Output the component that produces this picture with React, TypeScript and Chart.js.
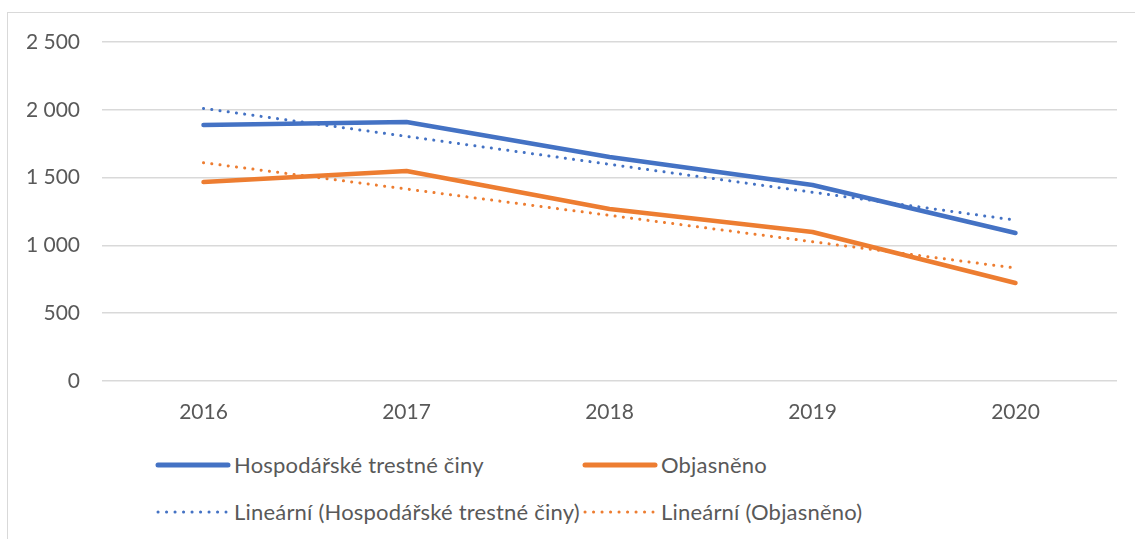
import React, { useEffect, useRef } from "react";
import { Chart, registerables } from "chart.js";

Chart.register(...registerables);

const years = ["2016", "2017", "2018", "2019", "2020"];
const crimes = [1888, 1910, 1652, 1445, 1091];
const solved = [1467, 1549, 1268, 1099, 723];
const trendCrimes = [2010, null, null, null, 1186];
const trendSolved = [1610, null, null, null, 833];
const yTicks = [0, 500, 1000, 1500, 2000, 2500];

const labelCrimes = "Hospodářské trestné činy";
const labelSolved = "Objasněno";
const labelTrendCrimes = "Lineární (Hospodářské trestné činy)";
const labelTrendSolved = "Lineární (Objasněno)";

const BLUE = "#4472C4";
const ORANGE = "#ED7D31";
const TEXT = "#595959";
const GRID = "#D9D9D9";
const FONT = "Lato, 'Open Sans', sans-serif";
const FS = 21;

function fmt(v: number) {
  return String(v).replace(/\B(?=(\d{3})+(?!\d))/g, " ");
}

function Sample({ color, dotted }: { color: string; dotted: boolean }) {
  return (
    <svg width={79} height={10} style={{ display: "block" }}>
      {dotted ? (
        <line x1={3} y1={5} x2={71} y2={5} stroke={color} strokeWidth={3} strokeLinecap="round" strokeDasharray="0.1 8.4" />
      ) : (
        <line x1={3} y1={5} x2={73} y2={5} stroke={color} strokeWidth={5} strokeLinecap="round" />
      )}
    </svg>
  );
}

export default function App() {
  const ref = useRef<HTMLCanvasElement>(null);
  useEffect(() => {
    const chart = new Chart(ref.current!, {
      type: "line",
      data: {
        labels: years,
        datasets: [
          { label: labelCrimes, data: crimes, borderColor: BLUE, backgroundColor: BLUE, borderWidth: 4.5, borderCapStyle: "round", borderJoinStyle: "round", pointRadius: 0, tension: 0, order: 2 },
          { label: labelSolved, data: solved, borderColor: ORANGE, backgroundColor: ORANGE, borderWidth: 4.5, borderCapStyle: "round", borderJoinStyle: "round", pointRadius: 0, tension: 0, order: 2 },
          { label: labelTrendCrimes, data: trendCrimes, borderColor: BLUE, borderWidth: 3, borderDash: [0.1, 8.2], borderCapStyle: "round", pointRadius: 0, spanGaps: true, order: 1 },
          { label: labelTrendSolved, data: trendSolved, borderColor: ORANGE, borderWidth: 3, borderDash: [0.1, 8.2], borderCapStyle: "round", pointRadius: 0, spanGaps: true, order: 1 },
        ],
      },
      options: {
        animation: false,
        responsive: false,
        maintainAspectRatio: false,
        layout: { padding: { left: 0, right: 18, top: 42, bottom: 0 } },
        plugins: { legend: { display: false }, tooltip: { enabled: false } },
        scales: {
          x: {
            offset: true,
            grid: { display: false, drawTicks: false, offset: true },
            border: { display: false },
            ticks: { color: TEXT, font: { family: FONT, size: FS }, padding: 19 },
            afterFit: (s: any) => { s.height = 59; },
          },
          y: {
            min: 0,
            max: 2500,
            afterBuildTicks: (s: any) => { s.ticks = yTicks.map((v) => ({ value: v })); },
            grid: { color: GRID, lineWidth: 1.5, drawTicks: false },
            border: { display: false },
            ticks: { color: TEXT, font: { family: FONT, size: FS }, padding: 22, callback: (v: any) => fmt(Number(v)) },
            afterFit: (s: any) => { s.width = 102; },
          },
        },
      },
    });
    return () => chart.destroy();
  }, []);

  const textStyle: React.CSSProperties = { fontFamily: FONT, fontSize: 22, letterSpacing: 0.2, color: TEXT, whiteSpace: "nowrap", lineHeight: "24px" };
  const item = (left: number, top: number, color: string, dotted: boolean, label: string) => (
    <div style={{ position: "absolute", left, top: top - 12, display: "flex", alignItems: "center", height: 24 }}>
      <Sample color={color} dotted={dotted} />
      <span style={textStyle}>{label}</span>
    </div>
  );

  return (
    <div style={{ position: "fixed", left: 0, top: 0, width: 1135, height: 539, background: "#fff", overflow: "hidden" }}>
      <div style={{ position: "absolute", left: 7, top: 12, width: 1140, height: 560, border: "1px solid #D9D9D9", boxSizing: "border-box" }} />
      <canvas ref={ref} width={1135} height={440} style={{ position: "absolute", left: 0, top: 0 }} />
      {item(155, 465, BLUE, false, labelCrimes)}
      {item(582, 465, ORANGE, false, labelSolved)}
      {item(155, 512, BLUE, true, labelTrendCrimes)}
      {item(582, 512, ORANGE, true, labelTrendSolved)}
    </div>
  );
}
